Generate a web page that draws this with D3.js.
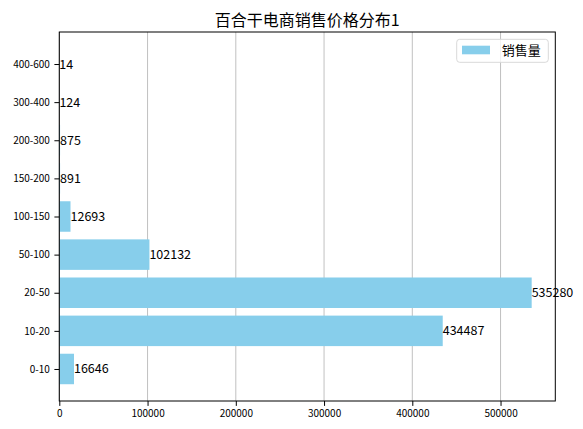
<!DOCTYPE html>
<html>
<head>
<meta charset="utf-8">
<script src="https://cdn.jsdelivr.net/npm/d3@7"></script>
<style>
  body { margin: 0; background: #fff; }
  text { font-family: "Noto Sans CJK SC", "DejaVu Sans", sans-serif; }
</style>
</head>
<body>
<script>
// chart data
const categories = ["0-10", "10-20", "20-50", "50-100", "100-150", "150-200", "200-300", "300-400", "400-600"]
const sales = [16646, 434487, 535280, 102132, 12693, 891, 875, 124, 14]
const xTicks = [0, 100000, 200000, 300000, 400000, 500000]
const titleText = "百合干电商销售价格分布1"
const legendText = "销售量"

var w = 583
var h = 429
// plot area (named so they don't clash with window.top)
var plotL = 59.3, plotR = 555.3, plotT = 32, plotB = 401
var barColor = "#87ceeb"

var svg = d3.select("body")
            .append("svg")
            .attr("width", w)
            .attr("height", h)

// matplotlib style margins (5%)
var xMax = d3.max(sales) * 1.05
var xScale = d3.scaleLinear()
    .domain([0, xMax])
    .range([plotL, plotR])

var yScale = d3.scaleLinear()
    .domain([-0.84, categories.length - 1 + 0.84])
    .range([plotB, plotT])

var bandH = yScale(0) - yScale(0.8)

// grid lines behind bars
svg.append("g")
    .selectAll("line")
    .data(xTicks)
    .enter()
    .append("line")
    .attr("x1", d => xScale(d))
    .attr("x2", d => xScale(d))
    .attr("y1", plotT)
    .attr("y2", plotB)
    .attr("stroke", "#b0b0b0")
    .attr("stroke-width", 0.8)

// bars
svg.append("g")
    .selectAll("rect")
    .data(sales)
    .enter()
    .append("rect")
    .attr("x", xScale(0))
    .attr("y", (d, i) => yScale(i + 0.4))
    .attr("width", d => xScale(d) - xScale(0))
    .attr("height", bandH)
    .attr("fill", barColor)

// value labels
svg.append("g")
    .selectAll("text")
    .data(sales)
    .enter()
    .append("text")
    .attr("x", d => xScale(d))
    .attr("y", (d, i) => yScale(i))
    .attr("dy", "0.36em")
    .attr("font-size", "12.5px")
    .attr("fill", "#000")
    .text(d => d)

// x axis
var xAxis = d3.axisBottom(xScale)
    .tickValues(xTicks)
    .tickFormat(d3.format("d"))
    .tickSize(4.9)
    .tickPadding(3.5)
var gx = svg.append("g")
    .attr("transform", "translate(0," + plotB + ")")
    .call(xAxis)
gx.select(".domain").remove()
gx.selectAll("text").attr("font-size", "10px").attr("fill", "#000")
    .style("font-family", '"Noto Sans CJK SC", sans-serif')

// y axis
var yAxis = d3.axisLeft(yScale)
    .tickValues(d3.range(categories.length))
    .tickFormat(i => categories[i])
    .tickSize(4.9)
    .tickPadding(4.5)
var gy = svg.append("g")
    .attr("transform", "translate(" + plotL + ",0)")
    .call(yAxis)
gy.select(".domain").remove()
gy.selectAll("text").attr("font-size", "10px").attr("fill", "#000")
    .style("font-family", '"Noto Sans CJK SC", sans-serif')

// frame
svg.append("rect")
    .attr("x", plotL)
    .attr("y", plotT)
    .attr("width", plotR - plotL)
    .attr("height", plotB - plotT)
    .attr("fill", "none")
    .attr("stroke", "#000")
    .attr("stroke-width", 1)

// title
svg.append("text")
    .attr("x", (plotL + plotR) / 2)
    .attr("y", 26)
    .attr("text-anchor", "middle")
    .attr("font-size", "16px")
    .attr("fill", "#000")
    .text(titleText)

// legend
var legend = svg.append("g")
legend.append("rect")
    .attr("x", 456.7)
    .attr("y", 39.3)
    .attr("width", 91.6)
    .attr("height", 23)
    .attr("rx", 3)
    .attr("fill", "#fff")
    .attr("fill-opacity", 0.8)
    .attr("stroke", "#d9d9d9")
legend.append("rect")
    .attr("x", 462)
    .attr("y", 45.7)
    .attr("width", 28)
    .attr("height", 8.6)
    .attr("fill", barColor)
legend.append("text")
    .attr("x", 501.7)
    .attr("y", 50)
    .attr("dy", "0.36em")
    .attr("font-size", "13px")
    .attr("fill", "#000")
    .text(legendText)
</script>
</body>
</html>
